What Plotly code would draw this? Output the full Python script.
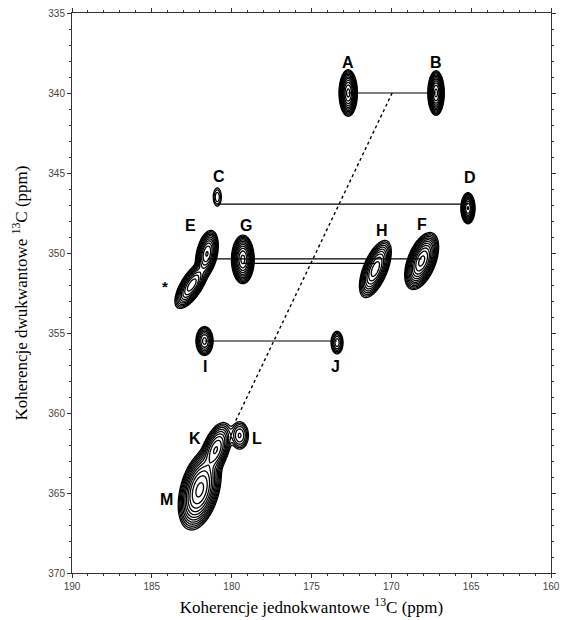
import numpy as np
import plotly.graph_objects as go

# ---- peaks (ppm) ----
peak_names = ["A", "B", "C", "D", "E1", "E2", "G", "H", "F", "I", "J", "K", "M", "L"]
peak_x = [172.7, 167.2, 180.9, 165.2, 181.55, 182.5, 179.3, 171.0, 168.1, 181.7, 173.4, 181.0, 182.0, 179.5]
peak_y = [340.0, 340.0, 346.5, 347.2, 350.05, 352.0, 350.4, 351.0, 350.5, 355.5, 355.6, 362.3, 364.8, 361.4]
peak_amp = [100, 100, 3, 60, 60, 50, 100, 50, 100, 20, 10, 40, 100, 8]
peak_sig_minor = [0.19, 0.17, 0.17, 0.155, 0.23, 0.24, 0.235, 0.27, 0.29, 0.22, 0.175, 0.30, 0.40, 0.27]
peak_sig_major = [0.48, 0.46, 0.38, 0.34, 0.52, 0.60, 0.50, 0.68, 0.62, 0.37, 0.33, 0.66, 0.85, 0.42]
peak_tilt_deg = [0, 0, 0, 0, 12, 32, 0, 22, 21, 0, 0, 20, 15, 0]

# ---- connecting lines (cross peaks) ----
link_y = [340.0, 346.95, 350.37, 350.65, 355.5]
link_x_start = [172.7, 180.9, 181.5, 179.3, 181.7]
link_x_end = [167.2, 165.2, 168.1, 171.0, 173.4]

# ---- diagonal (dotted) ----
diag_x = [169.95, 179.8]
diag_y = [340.0, 360.6]

# ---- labels ----
label_text = ["A", "B", "C", "D", "E", "G", "H", "F", "*", "I", "J", "K", "L", "M"]
label_x = [172.7, 167.2, 180.8, 165.1, 182.6, 179.1, 170.6, 168.1, 184.2, 181.7, 173.5, 182.3, 178.4, 184.1]
label_y = [338.1, 338.1, 345.2, 345.3, 348.3, 348.3, 348.6, 348.2, 352.1, 357.1, 357.1, 361.6, 361.6, 365.4]

# ---- grid for contour map ----
gx = np.arange(161.0, 187.0001, 0.05)
gy = np.arange(336.0, 369.5001, 0.05)
X, Y = np.meshgrid(gx, gy)
Z = np.zeros_like(X)
for x0, y0, a, su, sv, t in zip(peak_x, peak_y, peak_amp, peak_sig_minor, peak_sig_major, peak_tilt_deg):
    th = np.radians(t)
    dx = X - x0
    dy = Y - y0
    v = dx * np.sin(th) + dy * np.cos(th)
    u = dx * np.cos(th) - dy * np.sin(th)
    Z += a * np.exp(-0.5 * (u ** 2 / su ** 2 + v ** 2 / sv ** 2))
logZ = np.log10(np.maximum(Z, 0.3)).astype(np.float32)

fig = go.Figure()

for yv, xs, xe in zip(link_y, link_x_start, link_x_end):
    fig.add_trace(go.Scatter(x=[xs, xe], y=[yv, yv], mode="lines",
                             line=dict(color="black", width=1.2), hoverinfo="skip", showlegend=False))

fig.add_trace(go.Scatter(x=diag_x, y=diag_y, mode="lines",
                         line=dict(color="black", width=1.4, dash="dot"), hoverinfo="skip", showlegend=False))

# white fill under contours to hide lines inside peaks
fig.add_trace(go.Contour(x=gx, y=gy, z=logZ, showscale=False, hoverinfo="skip",
                         contours=dict(start=0, end=0.01, size=1, coloring="heatmap"),
                         colorscale=[[0, "rgba(255,255,255,0)"], [0.5, "rgba(255,255,255,0)"], [0.5, "white"], [1, "white"]],
                         zmin=-1, zmax=1, line=dict(width=0)))

fig.add_trace(go.Contour(x=gx, y=gy, z=logZ, showscale=False, hoverinfo="skip",
                         contours=dict(start=0, end=2.0, size=np.log10(1.5), coloring="lines"),
                         colorscale=[[0, "black"], [1, "black"]],
                         line=dict(width=1.3, smoothing=1)))

for t, xv, yv in zip(label_text, label_x, label_y):
    fig.add_annotation(x=xv, y=yv, text="<b>%s</b>" % t, showarrow=False,
                       font=dict(family="Arial", size=16 if t != "*" else 15, color="black"))

axis_common = dict(showline=True, linecolor="#333", linewidth=1, mirror="allticks",
                   ticks="outside", ticklen=4, tickcolor="#333", showgrid=False, zeroline=False,
                   automargin=False,
                   tickfont=dict(family="Arial", size=10, color="#444"),
                   minor=dict(dtick=1, ticks="outside", ticklen=2, tickcolor="#333", showgrid=False))

fig.update_layout(
    width=564, height=620,
    margin=dict(l=72, r=13, t=13, b=47),
    plot_bgcolor="white", paper_bgcolor="white",
    showlegend=False,
    xaxis=dict(range=[190, 160], dtick=5, tick0=160,
               title=dict(text="Koherencje jednokwantowe <sup>13</sup>C (ppm)",
                          font=dict(family="Liberation Serif", size=17, color="black"), standoff=10),
               **axis_common),
    yaxis=dict(range=[370, 335], dtick=5, tick0=335,
               title=dict(text="Koherencje dwukwantowe <sup>13</sup>C (ppm)",
                          font=dict(family="Liberation Serif", size=17, color="black"), standoff=16),
               **axis_common),
)

fig.write_html("out.html")
